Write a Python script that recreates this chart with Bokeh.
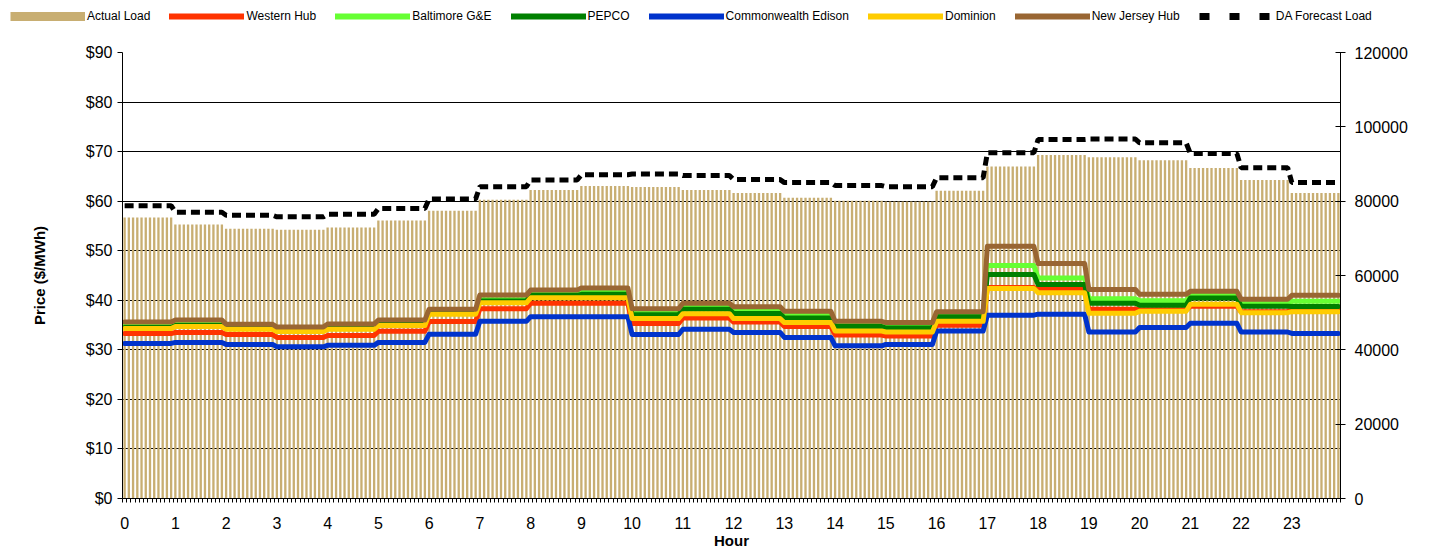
import math
from bokeh.plotting import figure
from bokeh.layouts import column
from bokeh.models import (Range1d, LinearAxis, FixedTicker, Legend, LegendItem,
                          ColumnDataSource, Label)
from bokeh.embed import file_html
from bokeh.resources import INLINE

# ---------------- data ----------------
hour_labels = [str(h) for h in range(24)]
intervals_per_hour = 12  # 5-minute intervals

actual_load = [75600, 73700, 72600, 72300, 72900, 74800, 77400, 80400, 83000, 84100,
               83800, 83000, 82200, 80900, 80100, 79900, 82800, 89300, 92400, 91800,
               91000, 88900, 85700, 82200]
da_forecast_load = [78800, 77000, 76200, 75800, 76500, 78000, 80600, 83900, 85700, 87100,
                    87300, 86900, 85800, 85000, 84200, 83900, 86300, 93000, 96600, 96700,
                    95700, 92800, 89000, 85000]

western_hub = [33.3, 33.5, 33.1, 32.5, 32.9, 33.75, 35.7, 38.3, 39.4, 39.4, 35.3, 36.4,
               35.6, 34.7, 33.0, 32.8, 34.95, 42.6, 42.2, 38.2, 38.1, 38.8, 37.7, 38.0]
baltimore_ge = [34.8, 35.15, 34.55, 34.1, 34.6, 35.3, 37.6, 40.1, 41.2, 41.65, 37.6, 38.8,
                38.0, 37.1, 35.15, 34.95, 37.1, 47.0, 44.5, 40.3, 39.9, 41.0, 39.4, 39.8]
pepco = [34.5, 34.9, 34.3, 33.9, 34.35, 35.1, 37.4, 39.85, 41.0, 41.2, 37.1, 38.2,
         37.35, 36.4, 34.7, 34.4, 36.7, 45.2, 43.2, 39.4, 39.0, 40.45, 38.8, 38.75]
commonwealth_edison = [31.3, 31.5, 31.1, 30.6, 30.9, 31.5, 33.15, 35.75, 36.7, 36.7, 33.1, 34.15,
                       33.5, 32.5, 30.8, 31.1, 33.8, 37.0, 37.2, 33.6, 34.5, 35.35, 33.6, 33.3]
dominion = [34.3, 34.7, 34.15, 33.7, 34.15, 34.9, 37.2, 39.5, 40.5, 40.5, 36.3, 37.3,
            36.3, 35.5, 33.8, 33.6, 35.75, 42.4, 41.5, 37.4, 37.8, 39.2, 37.5, 37.7]
new_jersey_hub = [35.6, 36.0, 35.15, 34.6, 35.2, 36.0, 38.2, 41.05, 42.05, 42.5, 38.3, 39.4,
                  38.7, 37.8, 35.75, 35.5, 37.7, 50.9, 47.4, 42.2, 41.2, 41.8, 40.2, 41.0]

price_ticks = [0, 10, 20, 30, 40, 50, 60, 70, 80, 90]
price_tick_labels = ["$0", "$10", "$20", "$30", "$40", "$50", "$60", "$70", "$80", "$90"]
load_ticks = [0, 20000, 40000, 60000, 80000, 100000, 120000]
load_tick_labels = ["0", "20000", "40000", "60000", "80000", "100000", "120000"]

# ---------------- build ----------------
n = len(hour_labels) * intervals_per_hour


def expand(hourly):
    return [v for v in hourly for _ in range(intervals_per_hour)]


src = ColumnDataSource(dict(
    x=list(range(n)),
    load=expand(actual_load),
    da=expand(da_forecast_load),
    wh=expand(western_hub),
    bge=expand(baltimore_ge),
    pep=expand(pepco),
    ce=expand(commonwealth_edison),
    dom=expand(dominion),
    njh=expand(new_jersey_hub),
))

FONT = "Liberation Sans"
TAN = "#C8AE72"
TICK_SIZE = "16px"
TITLE_SIZE = "15px"
LEG_H = 32

p = figure(width=1451, height=551 - LEG_H, output_backend="svg", toolbar_location=None,
           x_range=Range1d(-0.5, n - 0.5), y_range=Range1d(0, 90),
           min_border_left=122, min_border_right=111, min_border_top=52 - LEG_H,
           min_border_bottom=51,
           background_fill_color="white", border_fill_color="white")
p.frame_align = False
p.extra_y_ranges = {"load": Range1d(0, 120000)}
p.outline_line_color = None
p.xgrid.visible = False
p.ygrid.ticker = FixedTicker(ticks=price_ticks)
p.ygrid.grid_line_color = "black"
p.ygrid.grid_line_width = 1

# x axis
xa = p.xaxis[0]
xa.ticker = FixedTicker(ticks=[h * intervals_per_hour for h in range(24)],
                        minor_ticks=[i - 0.5 for i in range(n + 1)])
xa.major_label_overrides = {h * intervals_per_hour: hour_labels[h] for h in range(24)}
xa.major_tick_out = 0
xa.major_tick_in = 0
xa.minor_tick_out = 4
xa.minor_tick_in = 0
xa.minor_tick_line_color = "black"
xa.axis_line_color = "black"
xa.major_label_standoff = 14
xa.major_label_text_font = FONT
xa.major_label_text_font_size = TICK_SIZE
xa.major_label_text_color = "black"
xa.axis_label = "Hour"
xa.axis_label_standoff = 0
xa.axis_label_text_font = FONT
xa.axis_label_text_font_size = TITLE_SIZE
xa.axis_label_text_font_style = "bold"
xa.axis_label_text_color = "black"

# left axis
ya = p.yaxis[0]
ya.ticker = FixedTicker(ticks=price_ticks)
ya.major_label_overrides = {t: l for t, l in zip(price_ticks, price_tick_labels)}
ya.major_tick_out = 5
ya.major_tick_in = 0
ya.minor_tick_out = 0
ya.minor_tick_in = 0
ya.axis_line_color = "black"
ya.major_tick_line_color = "black"
ya.major_label_standoff = 5
ya.major_label_text_font = FONT
ya.major_label_text_font_size = TICK_SIZE
ya.major_label_text_color = "black"
ya.axis_label = "Price ($/MWh)"
ya.axis_label_standoff = 35
ya.axis_label_text_font = FONT
ya.axis_label_text_font_size = TITLE_SIZE
ya.axis_label_text_font_style = "bold"
ya.axis_label_text_color = "black"

# right axis
ra = LinearAxis(y_range_name="load", ticker=FixedTicker(ticks=load_ticks))
ra.major_label_overrides = {t: l for t, l in zip(load_ticks, load_tick_labels)}
ra.major_tick_out = 5
ra.major_tick_in = 5
ra.minor_tick_out = 0
ra.minor_tick_in = 0
ra.axis_line_color = "black"
ra.major_tick_line_color = "black"
ra.major_label_standoff = 9
ra.major_label_text_font = FONT
ra.major_label_text_font_size = TICK_SIZE
ra.major_label_text_color = "black"
p.add_layout(ra, "right")

p.add_layout(Label(x=n - 0.5, y=60000, y_range_name="load", x_offset=92,
                   text="Load (MW)", angle=math.pi / 2, text_align="center",
                   text_baseline="middle", text_font=FONT, text_font_size=TITLE_SIZE,
                   text_font_style="bold", text_color="black"))

# glyphs
p.vbar(x="x", top="load", width=0.55, source=src, y_range_name="load",
       fill_color=TAN, line_color=None)

series = [("wh", "Western Hub", "#FF3300"),
          ("bge", "Baltimore G&E", "#66FF33"),
          ("pep", "PEPCO", "#008000"),
          ("ce", "Commonwealth Edison", "#0033CC"),
          ("dom", "Dominion", "#FFCC00"),
          ("njh", "New Jersey Hub", "#996633")]
for col, name, color in series:
    p.line("x", col, source=src, line_color=color, line_width=5,
           line_join="round", line_cap="round")

p.line("x", "da", source=src, y_range_name="load", line_color="black",
       line_width=5, line_dash="9 5", line_cap="butt")

# ---------------- legend strip (separate canvas so it is not clipped) ----------------
# The strip's ranges keep these copies of the series out of view;
# they only provide the legend swatches.
lg = figure(width=1451, height=LEG_H, output_backend="svg", toolbar_location=None,
            x_range=Range1d(-1, 0), y_range=Range1d(-1, 0), x_axis_type=None, y_axis_type=None,
            min_border_left=0, min_border_right=0, min_border_top=0, min_border_bottom=0,
            background_fill_color="white", border_fill_color="white")
lg.frame_align = False
lg.outline_line_color = None
lg.grid.visible = False

items = [LegendItem(label="Actual Load",
                    renderers=[lg.line("x", "load", source=src, line_color=TAN,
                                       line_width=9, line_cap="butt")])]
for col, name, color in series:
    r = lg.line("x", col, source=src, line_color=color, line_width=6, line_cap="round")
    items.append(LegendItem(label=name, renderers=[r]))
items.append(LegendItem(label="DA Forecast Load",
                        renderers=[lg.line("x", "da", source=src, line_color="black",
                                           line_width=7, line_dash="10 20", line_cap="butt")]))

legend = Legend(items=items, orientation="horizontal", location=(10, 9),
                glyph_width=75, glyph_height=14, label_height=14, label_standoff=2,
                spacing=19, padding=0, margin=0, border_line_color=None,
                background_fill_alpha=0, label_text_font=FONT,
                label_text_font_size="12px", label_text_color="black")
lg.add_layout(legend)

layout = column(lg, p, spacing=0)
open("out.html", "w").write(file_html(layout, INLINE))
